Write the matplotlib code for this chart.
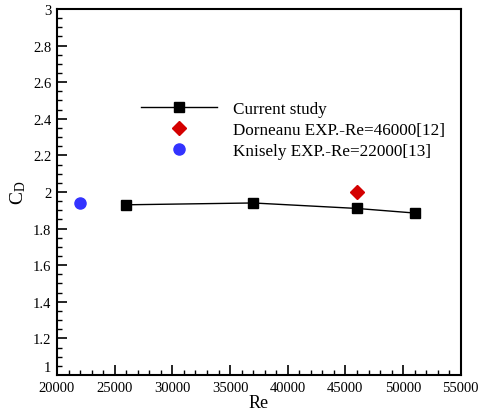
import matplotlib
matplotlib.use('Agg')
import matplotlib.pyplot as plt
from matplotlib.ticker import MultipleLocator

plt.rcParams['font.family'] = ['Liberation Serif', 'DejaVu Serif']
plt.rcParams['mathtext.fontset'] = 'custom'
plt.rcParams['mathtext.rm'] = 'Liberation Serif'

# current study
re_cur = [26000, 37000, 46000, 51000]
cd_cur = [1.93, 1.94, 1.91, 1.885]
# experiments
re_dor = [46000]
cd_dor = [2.0]
re_kni = [22000]
cd_kni = [1.94]

fig = plt.figure(figsize=(4.81, 4.10), dpi=100)
ax = fig.add_axes([0.1185, 0.083, 0.8395, 0.8926])

ax.plot(re_cur, cd_cur, '-s', color='black', lw=1, ms=7, label='Current study')
ax.plot(re_dor, cd_dor, 'D', color='#d40000', ms=7.5, ls='none', label='Dorneanu EXP.-Re=46000[12]')
ax.plot(re_kni, cd_kni, 'o', color='#3333ff', ms=8, ls='none', label='Knisely EXP.-Re=22000[13]')

ymin, ymax = 1, 3
ax.set_xlim(20000, 55000)
ax.set_ylim(ymin, ymax)
ax.xaxis.set_major_locator(MultipleLocator(5000))
ax.xaxis.set_minor_locator(MultipleLocator(1000))
ax.yaxis.set_major_locator(MultipleLocator(0.2))
ax.yaxis.set_minor_locator(MultipleLocator(0.05))
# bottom "1" is drawn separately, a bit raised so it clears "20000"
ax.yaxis.set_major_formatter(plt.FuncFormatter(lambda v, p: '' if abs(v - ymin) < 1e-9 else '%g' % round(v, 2)))
ax.annotate('%g' % ymin, xy=(0, ymin), xycoords=ax.get_yaxis_transform(), xytext=(-4, 1),
            textcoords='offset points', ha='right', va='bottom', fontsize=10.5)

ax.tick_params(which='both', direction='in', top=False, right=False, labelsize=10.5)
ax.tick_params(axis='x', pad=4)
ax.tick_params(axis='y', pad=4)
ax.tick_params(which='major', length=7, width=1.2)
ax.tick_params(which='minor', length=3.5, width=1)
for s in ax.spines.values():
    s.set_linewidth(1.5)

ax.set_xlabel('Re', fontsize=13, labelpad=0)
ax.set_ylabel(r'$\mathregular{C_D}$', fontsize=14, labelpad=4)

ax.legend(loc='upper left', bbox_to_anchor=(0.19, 0.767), frameon=False,
          fontsize=12.3, handlelength=4.5, handletextpad=0.9, labelspacing=0.3, borderaxespad=0)

fig.savefig('out.png', dpi=100)
